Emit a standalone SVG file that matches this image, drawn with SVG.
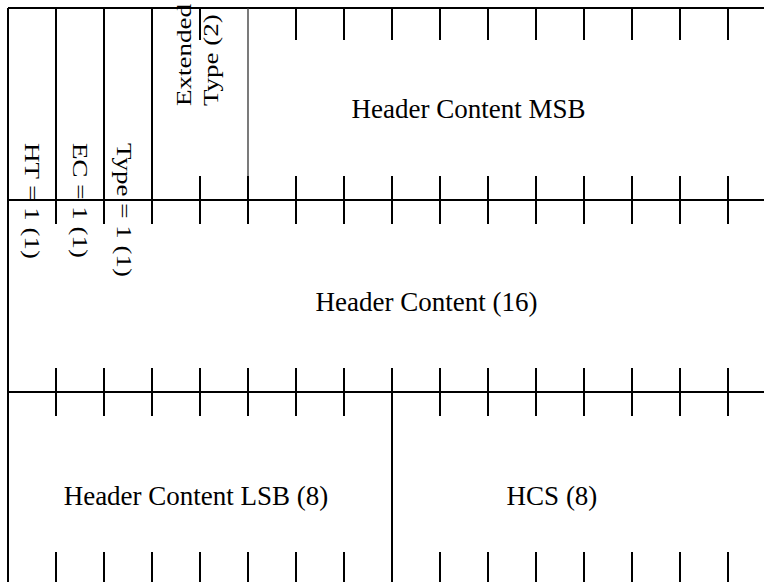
<svg xmlns="http://www.w3.org/2000/svg" width="764" height="582" viewBox="0 0 764 582">
<style>
.ln{stroke:#000;stroke-width:2;fill:none}
.thin{stroke:#333;stroke-width:1.3;fill:none}
.t{font-family:"Liberation Serif","Times New Roman",serif;font-size:27px;fill:#000}
.m{text-anchor:middle}
</style>
<rect width="764" height="582" fill="#fff"/>
<g id="grid">
<path class="ln" d="M8,8H764M8,200H764M8,392H764M8,8V582"/>
<path class="ln" d="M56,8V224M104,8V224M152,8V224"/>
<path class="thin" d="M248,8V200"/>
<path class="ln" d="M248,176V224"/>
<path class="ln" d="M200,8V40M296,8V40M344,8V40M392,8V40M440,8V40M488,8V40M536,8V40M584,8V40M632,8V40M680,8V40M728,8V40"/>
<path class="ln" d="M200,176V224M296,176V224M344,176V224M392,176V224M440,176V224M488,176V224M536,176V224M584,176V224M632,176V224M680,176V224M728,176V224"/>
<path class="ln" d="M56,368V416M104,368V416M152,368V416M200,368V416M248,368V416M296,368V416M344,368V416M440,368V416M488,368V416M536,368V416M584,368V416M632,368V416M680,368V416M728,368V416"/>
<path class="ln" d="M392,368V582"/>
<path class="ln" d="M56,552V582M104,552V582M152,552V582M200,552V582M248,552V582M296,552V582M344,552V582M440,552V582M488,552V582M536,552V582M584,552V582M632,552V582M680,552V582M728,552V582"/>
</g>
<g id="ht"><text class="t" transform="translate(25,143) rotate(90) scale(1,0.8)">HT = 1 (1)</text></g>
<g id="ec"><text class="t" transform="translate(73,143) rotate(90) scale(1,0.8)">EC = 1 (1)</text></g>
<g id="type"><text class="t" transform="translate(117,143) rotate(90) scale(1,0.8)">Type = 1 (1)</text></g>
<g id="exttype">
<text class="t" transform="translate(191,106) rotate(-90) scale(1,0.8)">Extended</text>
<text class="t" transform="translate(218,106) rotate(-90) scale(1,0.8)">Type (2)</text>
</g>
<g id="hcmsb"><text class="t m" x="468.5" y="118">Header Content MSB</text></g>
<g id="hc16"><text class="t m" x="426.5" y="311">Header Content (16)</text></g>
<g id="hclsb"><text class="t m" x="196" y="505">Header Content LSB (8)</text></g>
<g id="hcs"><text class="t m" x="552" y="505">HCS (8)</text></g>
</svg>
